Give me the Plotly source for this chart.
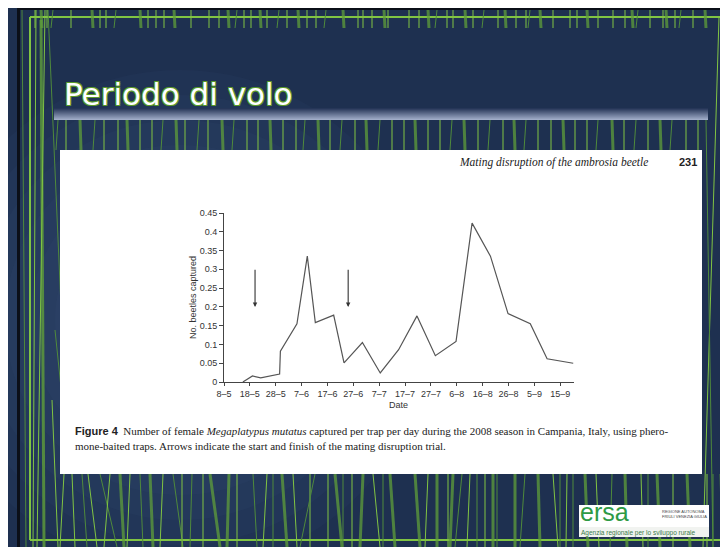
import plotly.graph_objects as go

# ---------------- data ----------------
days_since_8may = [7.3, 11, 14.2, 21.5, 21.8, 28.2, 32.2, 35.3, 42.4, 46.4, 53.5, 60.4,
                   67.5, 74.6, 81.7, 89.7, 95.9, 103.0, 109.8, 118.4, 124.9, 135.0]
beetles_captured = [0, 0.016, 0.011, 0.021, 0.082, 0.155, 0.335, 0.158, 0.178, 0.051, 0.105, 0.024,
                    0.086, 0.176, 0.070, 0.108, 0.423, 0.335, 0.182, 0.155, 0.062, 0.050]
tick_days = [0, 10, 20, 30, 40, 50, 60, 70, 80, 90, 100, 110, 120, 130]
tick_labels = ["8–5", "18–5", "28–5", "7–6", "17–6", "27–6", "7–7", "17–7", "27–7",
               "6–8", "16–8", "26–8", "5–9", "15–9"]
arrow_days = [12, 48]          # start / finish of mating disruption trial
arrow_top, arrow_tip = 0.303, 0.2

# ---------------- geometry helpers (page pixels) ----------------
OFF = 8                      # default body margin of the html page
W, H = 728, 547
L, R, T, B = 224, 574, 213, 382


def px(x):
    return (x - L) / (R - L)


def py(y):
    return (B - y) / (B - T)


shapes = []
annos = []


def rect(x0, y0, x1, y1, fill, layer="below"):
    shapes.append(dict(type="rect", xref="paper", yref="paper", x0=px(x0), x1=px(x1),
                       y0=py(y1), y1=py(y0), fillcolor=fill, layer=layer,
                       line=dict(width=0)))


def seg(x0, y0, x1, y1, color, width=1, opacity=1.0):
    shapes.append(dict(type="line", xref="paper", yref="paper", x0=px(x0), x1=px(x1),
                       y0=py(y0), y1=py(y1), layer="below", opacity=opacity,
                       line=dict(color=color, width=width)))


def circ(cx, cy, r, fill):
    shapes.append(dict(type="circle", xref="paper", yref="paper", x0=px(cx - r), x1=px(cx + r),
                       y0=py(cy + r), y1=py(cy - r), fillcolor=fill, layer="below",
                       line=dict(width=0)))


def text(x, y, s, font, xanchor="left", yanchor="middle", **kw):
    annos.append(dict(x=px(x), y=py(y), xref="paper", yref="paper", text=s, showarrow=False,
                      xanchor=xanchor, yanchor=yanchor, font=font, **kw))


BRIGHT = "#80c443"
DOT = "#5f9e3a"
FAINT = "#4f8a3c"

# soft glow in background
for r in [250, 225, 200, 175, 150, 125, 100, 75]:
    circ(180, 320, r, "rgba(120,140,185,0.035)")

# black border
seg(18.5, 7, 18.5, H, "#0b0f18", 3)
seg(17, 8.5, W, 8.5, "#0b0f18", 3)

# frame lines
seg(30, 17, W, 17, BRIGHT, 2)
seg(30, 17, 30, 540, BRIGHT, 2)
seg(30, 540, W, 540, BRIGHT, 2)

# long left lines
seg(22, 10, 26, H, FAINT, 1)
seg(36, 10, 33, H, BRIGHT, 1)
seg(41, 20, 44, H, DOT, 3, 0.8)
seg(45, 10, 37, H, BRIGHT, 1)
seg(48, 10, 62, 330, FAINT, 1)
seg(52, 400, 58, H, BRIGHT, 1)
seg(64, 474, 60, H, BRIGHT, 1)
seg(55, 330, 70, 474, FAINT, 1)

# long right lines
seg(719, 17, 703, H, BRIGHT, 1)
seg(706, 120, 713, H, FAINT, 1)

# top comb
comb_top = [35, 41, 47, 53, 71, 92, 100, 106, 116, 140, 148, 156, 164, 174, 191, 209, 219, 228,
            237, 244, 251, 260, 267, 279, 287, 298, 307, 316, 326, 343, 358, 363, 372, 384, 388,
            409, 419, 428, 437, 447, 453, 465, 473, 484, 498, 505, 516, 526, 530, 540, 553, 570,
            577, 587, 598, 613, 625, 632, 638, 650, 663, 666, 675, 681, 693, 705]
for i, x in enumerate(comb_top):
    if i % 4 == 1:
        seg(x, 10, x + 1, 28, DOT, 3, 0.75)
    elif i % 5 == 3:
        seg(x, 10, x - 2, 28, FAINT, 1)
    else:
        seg(x, 10, x, 28, BRIGHT, 1)

# middle strip (between title bar and panel)
comb_mid = [58, 66, 80, 95, 104, 118, 127, 140, 152, 163, 176, 185, 199, 208, 222, 234, 247,
            258, 270, 283, 296, 305, 318, 330, 342, 355, 366, 380, 392, 404, 415, 428, 440,
            452, 464, 478, 490, 503, 514, 526, 538, 551, 563, 575, 587, 598, 612, 624, 636,
            648, 660, 672, 686, 698]
for i, x in enumerate(comb_mid):
    if i % 4 == 2:
        seg(x, 120, x + 1, 150, DOT, 3, 0.75)
    elif i % 3 == 0:
        seg(x, 120, x - 2, 150, FAINT, 1)
    else:
        seg(x, 120, x, 150, BRIGHT, 1)

# bottom strip
bottom = [(72, 75, "b"), (82, 87, "f"), (88, 97, "b"), (100, 117, "f"), (110, 104, "b"),
          (120, 124, "d"), (130, 127, "b"), (140, 143, "f"), (150, 153, "d"), (163, 160, "b"),
          (173, 183, "f"), (182, 182, "b"), (192, 190, "f"), (203, 203, "b"), (210, 220, "d"),
          (229, 227, "d"), (237, 237, "b"), (253, 257, "f"), (267, 263, "b"), (273, 273, "f"),
          (282, 287, "d"), (293, 297, "b"), (310, 310, "b"), (315, 300, "f"), (328, 328, "b"),
          (335, 342, "d"), (343, 343, "f"), (352, 352, "b"), (363, 360, "d"), (373, 380, "b"),
          (383, 383, "f"), (390, 395, "d"), (415, 420, "d"), (428, 425, "b"), (437, 437, "d"),
          (448, 448, "b"), (453, 450, "d"), (462, 455, "f"), (470, 467, "b"), (477, 477, "f"),
          (485, 485, "b"), (493, 493, "d"), (497, 497, "f"), (515, 515, "d"), (525, 520, "f"),
          (538, 540, "d"), (553, 558, "b"), (560, 560, "f"), (567, 566, "b"), (573, 573, "f"),
          (585, 588, "d"), (596, 599, "b"), (612, 610, "f"), (625, 627, "d"), (641, 643, "b"),
          (648, 648, "f"), (657, 660, "d"), (673, 673, "b"), (687, 690, "d"), (707, 707, "b"),
          (713, 713, "f"), (721, 723, "d")]
for xt, xb, kind in bottom:
    if kind == "d":
        seg(xt, 474, xb, H, DOT, 3, 0.75)
    elif kind == "f":
        seg(xt, 474, xb, H, FAINT, 1)
    else:
        seg(xt, 474, xb, H, BRIGHT, 1)

# title underline bar (vertical gradient)
c0, c1 = (38, 54, 88), (160, 172, 200)
n = 12
for i in range(n):
    t = i / (n - 1)
    col = tuple(int(c0[k] + (c1[k] - c0[k]) * t) for k in range(3))
    rect(54, 108 + i, 708, 109 + i, "rgb(%d,%d,%d)" % col)

# white figure panel
rect(60, 150, 702, 474, "white")

# logo box
rect(579, 505, 709, 527, "white")
rect(579, 527, 709, 537, "#f1f3f0")

# ---------------- figure ----------------
fig = go.Figure()
fig.add_trace(go.Scatter(x=days_since_8may, y=beetles_captured, mode="lines",
                         line=dict(color="#555555", width=1.2), hoverinfo="skip",
                         showlegend=False))

for d in arrow_days:
    annos.append(dict(x=d, y=arrow_tip, ax=d, ay=arrow_top, xref="x", yref="y",
                      axref="x", ayref="y", text="", showarrow=True, arrowhead=2,
                      arrowsize=0.8, arrowwidth=1.1, arrowcolor="#333333"))

axis_font = dict(family="Liberation Sans, Arial", size=9, color="#333333")
text(193, 298, "No. beetles captured", axis_font, xanchor="center", textangle=-90)
text(398, 405, "Date", axis_font, xanchor="center")

# slide title
text(62, 94, "Periodo di volo",
     dict(family="DejaVu Sans", size=31, color="white",
          shadow="1px 1px 0 #5a9a2a, -1px -1px 0 #5a9a2a, 1px -1px 0 #5a9a2a, -1px 1px 0 #5a9a2a"))

# page header in figure
text(650, 162, "<i>Mating disruption of the ambrosia beetle</i>",
     dict(family="Liberation Serif", size=11.5, color="#222222"), xanchor="right")
text(677, 162, "<b>231</b>", dict(family="Liberation Sans", size=11, color="#222222"))

# caption
cap_font = dict(family="Liberation Serif", size=11, color="#222222")
text(73, 431, "<span style='font-family:Liberation Sans'><b>Figure 4</b></span>  Number of female "
              "<i>Megaplatypus mutatus</i> captured per trap per day during the 2008 season in "
              "Campania, Italy, using phero-", cap_font)
text(73, 446, "mone-baited traps. Arrows indicate the start and finish of the mating disruption trial.",
     cap_font)

# logo text
text(579, 527, "ersa", dict(family="Liberation Sans", size=25, color="#2e9a45"), yanchor="bottom",
     borderpad=0)
text(660, 514, "REGIONE AUTONOMA<br>FRIULI VENEZIA GIULIA",
     dict(family="Liberation Sans", size=4, color="#444444"), align="left")
text(580, 533, "Agenzia regionale per lo sviluppo rurale",
     dict(family="Liberation Sans", size=6.5, color="#3a7a4a"), borderpad=0)

fig.update_layout(
    width=W - OFF, height=H - OFF,
    margin=dict(l=L - OFF, r=W - R, t=T - OFF, b=H - B, pad=0),
    paper_bgcolor="#1e3050", plot_bgcolor="white",
    showlegend=False,
    shapes=shapes, annotations=annos,
    xaxis=dict(range=[0, 135.3], tickvals=tick_days, ticktext=tick_labels,
               showgrid=False, zeroline=False, showline=True, linecolor="#444444", linewidth=1,
               ticks="outside", ticklen=3, tickcolor="#444444", tickfont=axis_font,
               automargin=False, fixedrange=True),
    yaxis=dict(range=[0, 0.45], tick0=0, dtick=0.05, showgrid=False, zeroline=False,
               showline=True, linecolor="#444444", linewidth=1, ticks="outside", ticklen=4,
               tickcolor="#444444", tickfont=axis_font, automargin=False, fixedrange=True),
)

fig.write_html("out.html")
